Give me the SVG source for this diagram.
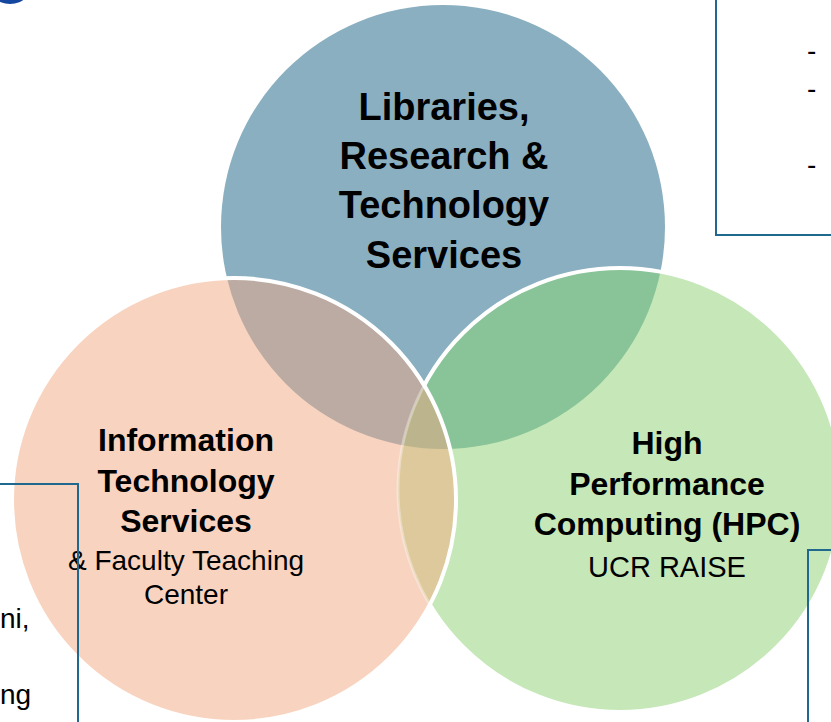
<svg xmlns="http://www.w3.org/2000/svg" width="831" height="722" viewBox="0 0 831 722">
<style>
.b{font-family:"Liberation Sans",Arial,sans-serif;font-weight:bold;fill:#000;text-anchor:middle}
.r{font-family:"Liberation Sans",Arial,sans-serif;fill:#000;text-anchor:middle}
.t{font-family:"Liberation Sans",Arial,sans-serif;fill:#000}
.box{fill:none;stroke:#21688F;stroke-width:2}
</style>
<defs>
<clipPath id="cBlue"><circle cx="443" cy="227" r="222"/></clipPath>
<clipPath id="cPeach"><circle cx="234" cy="500" r="222"/></clipPath>
</defs>
<rect width="831" height="722" fill="#fff"/>
<circle cx="10" cy="-20" r="24" fill="#1546A0"/>
<g id="libraries">
<circle cx="443" cy="227" r="222" fill="#8AAFC0"/>
</g>
<g id="hpc">
<circle cx="620" cy="490" r="222" fill="#C6E8B8"/>
<circle cx="620" cy="490" r="222" fill="#89C499" clip-path="url(#cBlue)"/>
<circle cx="620" cy="490" r="222" fill="none" stroke="#fff" stroke-width="4"/>
</g>
<g id="its">
<circle cx="234" cy="500" r="222" fill="#F8D4C0"/>
<g clip-path="url(#cPeach)">
<circle cx="443" cy="227" r="222" fill="#BBABA2"/>
<circle cx="620" cy="490" r="222" fill="#DDC99C"/>
<g clip-path="url(#cBlue)"><circle cx="620" cy="490" r="222" fill="#BCB48C"/></g>
<circle cx="620" cy="490" r="222" fill="none" stroke="#fff" stroke-opacity="0.35" stroke-width="3"/>
</g>
<circle cx="234" cy="500" r="222" fill="none" stroke="#fff" stroke-width="4"/>
</g>
<g id="labels">
<text class="b" font-size="38" x="444" y="120">Libraries,</text>
<text class="b" font-size="38" x="444" y="169">Research &amp;</text>
<text class="b" font-size="38" x="444" y="218">Technology</text>
<text class="b" font-size="38" x="444" y="268">Services</text>
<text class="b" font-size="32" x="186" y="451">Information</text>
<text class="b" font-size="32" x="186" y="492">Technology</text>
<text class="b" font-size="32" x="186" y="532">Services</text>
<text class="r" font-size="28" x="186" y="570">&amp; Faculty Teaching</text>
<text class="r" font-size="28" x="186" y="604">Center</text>
<text class="b" font-size="32" x="667" y="454">High</text>
<text class="b" font-size="32" x="667" y="495">Performance</text>
<text class="b" font-size="32" x="667" y="535">Computing (HPC)</text>
<text class="r" font-size="29" x="667" y="577">UCR RAISE</text>
</g>
<g id="connectors">
<polyline class="box" points="716,-5 716,235 840,235"/>
<polyline class="box" points="-5,484 78,484 78,730"/>
<polyline class="box" points="808,730 808,550 840,550"/>
</g>
<g id="box-texts">
<text class="t" font-size="28" x="807" y="60">-</text>
<text class="t" font-size="28" x="807" y="98">-</text>
<text class="t" font-size="28" x="807" y="174">-</text>
<text class="t" font-size="28" x="0" y="628">ni,</text>
<text class="t" font-size="28" x="0" y="704">ng</text>
</g>
</svg>
